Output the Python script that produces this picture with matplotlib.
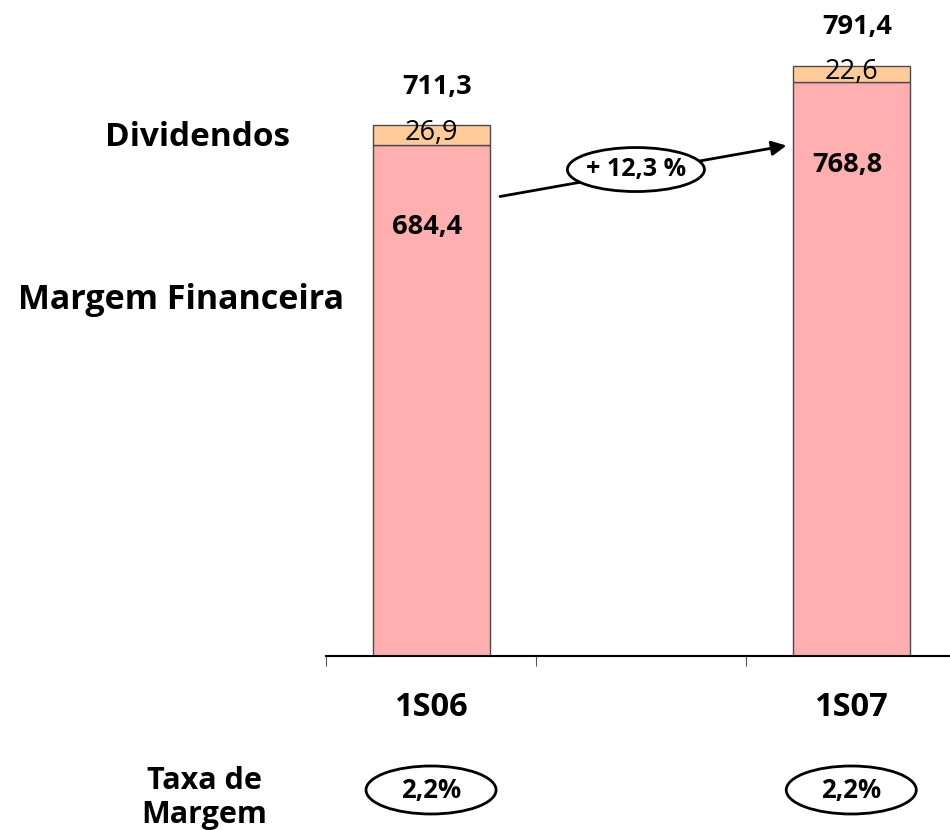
import matplotlib
matplotlib.use("Agg")
import matplotlib.pyplot as plt
from matplotlib.patches import Ellipse
from matplotlib.transforms import blended_transform_factory

# ---- data ----
categories = ["1S06", "1S07"]
x_pos = [0, 2]                      # 3 category slots, middle one empty
margem = [684.4, 768.8]             # Margem Financeira
dividendos = [26.9, 22.6]           # Dividendos
totais = [711.3, 791.4]
margem_labels = ["684,4", "768,8"]
div_labels = ["26,9", "22,6"]
total_labels = ["711,3", "791,4"]
taxa = ["2,2%", "2,2%"]
growth_label = "+ 12,3 %"

RED = "#FFAFAF"
ORANGE = "#FFCC99"
EDGE = "#4a4a4a"
FONT = ["Open Sans", "DejaVu Sans"]
plt.rcParams["font.family"] = FONT
plt.rcParams["font.weight"] = "bold"

W, H = 950, 830
fig = plt.figure(figsize=(W / 100, H / 100), dpi=100)
base_px = 656
ax = fig.add_axes([326 / W, (H - base_px) / H, (W - 326) / W, base_px / H])
ax.set_xlim(-0.5, 2.47)
ax.set_ylim(0, base_px / 0.746)

bw = 0.557
ax.bar(x_pos, margem, width=bw, color=RED, edgecolor=EDGE, linewidth=1, zorder=2)
ax.bar(x_pos, dividendos, width=bw, bottom=margem, color=ORANGE,
       edgecolor=EDGE, linewidth=1, zorder=2)

NUM = 19.5
for x, m, d, t, ml, dl, tl in zip(x_pos, margem, dividendos, totais,
                                  margem_labels, div_labels, total_labels):
    ax.text(x - 0.02, m - 110, ml, ha="center", va="center", fontsize=NUM,
            fontweight="bold", zorder=4)
    ax.text(x, m + d / 2 + 3, dl, ha="center", va="center", fontsize=NUM,
            fontweight="normal", zorder=4)
    ax.text(x + 0.03, t + 52, tl, ha="center", va="center", fontsize=NUM,
            fontweight="bold", zorder=4)

# spines / ticks
for s in ["left", "right", "top"]:
    ax.spines[s].set_visible(False)
ax.spines["bottom"].set_linewidth(1.5)
ax.spines["bottom"].set_color("black")
ax.set_yticks([])
ax.set_xticks([-0.5, 0.5, 1.5])
ax.set_xticklabels([])
ax.tick_params(axis="x", direction="out", length=7.5, width=0.8, colors="#555555")

# category labels and "Taxa de Margem" ellipses
tr = blended_transform_factory(ax.transData, ax.transAxes)
for x, c, tx in zip(x_pos, categories, taxa):
    ax.text(x, (base_px - 707) / base_px, c, transform=tr, ha="center",
            va="center", fontsize=23.5, fontweight="bold", clip_on=False)
    ey = (base_px - 790) / base_px
    e = Ellipse((x, ey), width=130 / 210, height=48 / base_px, transform=tr,
                facecolor="white", edgecolor="black", linewidth=2, clip_on=False)
    ax.add_patch(e)
    ax.text(x, ey, tx, transform=tr, ha="center", va="center", fontsize=18.5,
            fontweight="bold", clip_on=False)

# growth arrow
start = (x_pos[0] + bw / 2 + 0.05, margem[0] * 0.90)
end = (x_pos[1] - bw / 2 - 0.03, margem[1] * 0.89)
ax.annotate("", xy=end, xytext=start,
            arrowprops=dict(arrowstyle="-|>", color="black", lw=2,
                            mutation_scale=22, shrinkA=0, shrinkB=0), zorder=3)
mx = (start[0] + end[0]) / 2 - 0.035
my = (start[1] + end[1]) / 2 + 2
ax.add_patch(Ellipse((mx, my), width=137 / 210, height=44 / 0.746,
                     facecolor="white", edgecolor="black", linewidth=2,
                     zorder=4, clip_on=False))
ax.text(mx, my, growth_label, ha="center", va="center", fontsize=18,
        fontweight="bold", zorder=5)

# series labels on the left
fig.text(197 / W, 1 - 137 / H, "Dividendos", ha="center", va="center",
         fontsize=24, fontweight="bold")
fig.text(181 / W, 1 - 300 / H, "Margem Financeira", ha="center", va="center",
         fontsize=24.5, fontweight="bold")
fig.text(204 / W, 1 - 798 / H, "Taxa de\nMargem", ha="center", va="center",
         fontsize=22, fontweight="bold", linespacing=1.15)

fig.savefig("out.png", dpi=100)
